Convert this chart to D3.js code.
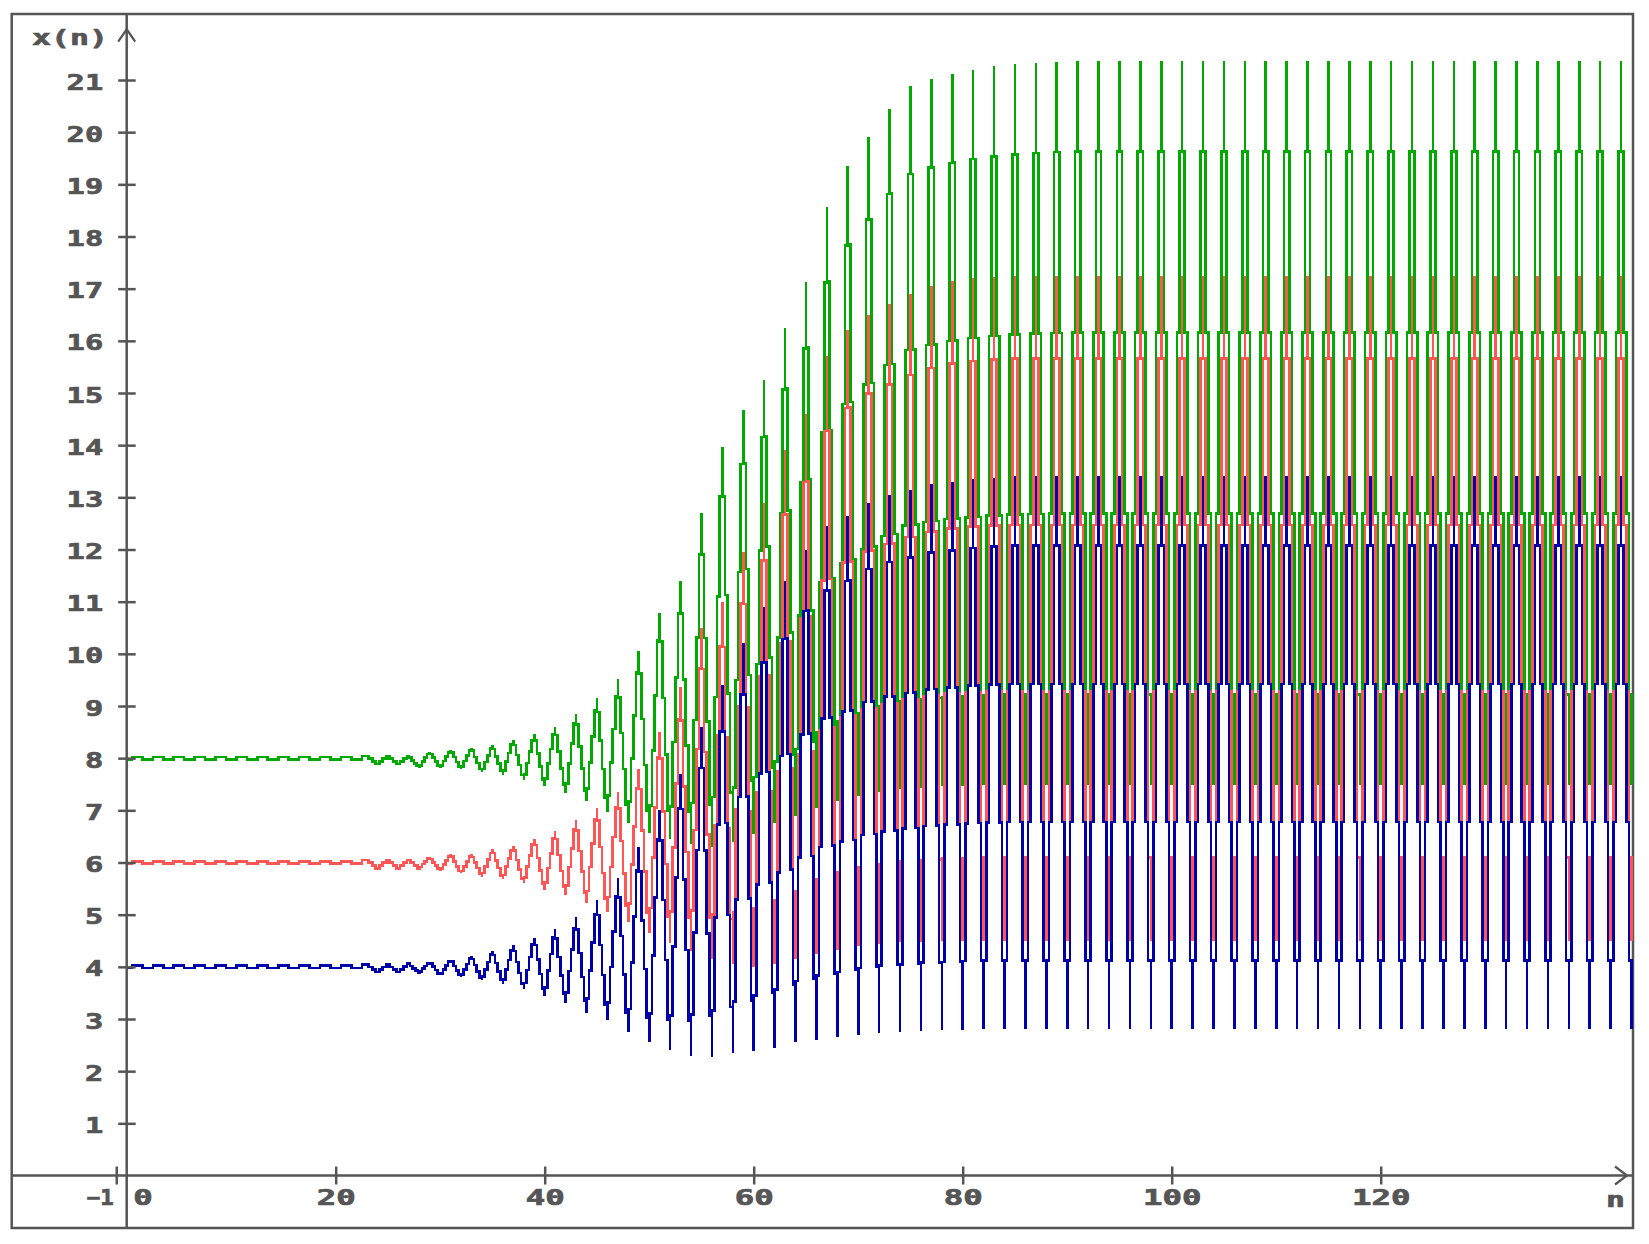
<!DOCTYPE html>
<html><head><meta charset="utf-8">
<script src="https://cdn.jsdelivr.net/npm/d3@7"></script>
<style>html,body{margin:0;padding:0;background:#fff;}svg{display:block;}</style>
</head><body>
<svg id="chart" width="1649" height="1244"></svg>
<script>
// ---- data: x(n) for n = 0 .. 144 ----
const greenValues = [
7.98,8.02,7.98,8.02,7.98,8.02,7.98,8.02,7.98,8.02,
7.98,8.02,7.98,8.02,7.98,8.02,7.98,8.02,7.98,8.02,
7.98,8.02,7.98,8.04,7.89,8.04,7.89,8.04,7.82,8.12,
7.82,8.16,7.79,8.20,7.73,8.25,7.68,8.35,7.58,8.46,
7.47,8.60,7.33,8.85,7.17,9.16,6.97,9.51,6.76,10.06,
6.56,10.78,6.45,11.40,6.35,12.70,6.30,13.97,6.40,14.67,
6.55,15.24,6.75,16.25,6.90,17.13,7.05,18.56,7.18,19.35,
7.28,19.90,7.35,20.45,7.40,20.88,7.43,21.02,7.46,21.12,
7.47,21.20,7.48,21.26,7.49,21.30,7.49,21.33,7.49,21.35,
7.49,21.36,7.49,21.36,7.49,21.36,7.49,21.36,7.49,21.36,
7.49,21.36,7.49,21.36,7.49,21.36,7.49,21.36,7.49,21.36,
7.49,21.36,7.49,21.36,7.49,21.36,7.49,21.36,7.49,21.36,
7.49,21.36,7.49,21.36,7.49,21.36,7.49,21.36,7.49,21.36,
7.49,21.36,7.49,21.36,7.49,21.36,7.49,21.36,7.49,21.36,
7.49,21.36,7.49,21.36,7.49
];
const redValues = [
5.98,6.02,5.98,6.02,5.98,6.02,5.98,6.02,5.98,6.02,
5.98,6.02,5.98,6.02,5.98,6.02,5.98,6.02,5.98,6.02,
5.98,6.02,5.98,6.05,5.89,6.05,5.89,6.05,5.89,6.10,
5.84,6.16,5.79,6.16,5.73,6.25,5.68,6.32,5.60,6.46,
5.47,6.60,5.38,6.81,5.23,7.05,5.05,7.35,4.85,7.80,
4.65,8.50,4.45,9.36,4.30,10.50,4.15,11.00,4.05,11.95,
4.00,12.90,4.05,13.90,4.15,14.60,4.25,15.70,4.33,16.20,
4.40,16.50,4.44,16.70,4.47,16.90,4.48,17.05,4.49,17.15,
4.50,17.20,4.50,17.23,4.50,17.25,4.50,17.25,4.50,17.25,
4.50,17.25,4.50,17.25,4.50,17.25,4.50,17.25,4.50,17.25,
4.50,17.25,4.50,17.25,4.50,17.25,4.50,17.25,4.50,17.25,
4.50,17.25,4.50,17.25,4.50,17.25,4.50,17.25,4.50,17.25,
4.50,17.25,4.50,17.25,4.50,17.25,4.50,17.25,4.50,17.25,
4.50,17.25,4.50,17.25,4.50,17.25,4.50,17.25,4.50,17.25,
4.50,17.25,4.50,17.25,4.50
];
const blueValues = [
3.98,4.02,3.98,4.02,3.98,4.02,3.98,4.02,3.98,4.02,
3.98,4.02,3.98,4.02,3.98,4.02,3.98,4.02,3.98,4.02,
3.98,4.02,3.98,4.05,3.90,4.05,3.90,4.06,3.88,4.10,
3.84,4.14,3.80,4.21,3.74,4.31,3.67,4.41,3.57,4.56,
3.45,4.72,3.30,4.95,3.12,5.28,2.98,5.70,2.75,6.30,
2.55,7.00,2.41,7.70,2.30,8.60,2.27,9.40,2.35,10.20,
2.38,10.90,2.45,11.40,2.55,12.00,2.60,12.45,2.65,12.65,
2.70,12.90,2.73,13.05,2.75,13.15,2.77,13.25,2.78,13.30,
2.79,13.35,2.80,13.38,2.80,13.40,2.80,13.40,2.80,13.40,
2.80,13.40,2.80,13.40,2.80,13.40,2.80,13.40,2.80,13.40,
2.80,13.40,2.80,13.40,2.80,13.40,2.80,13.40,2.80,13.40,
2.80,13.40,2.80,13.40,2.80,13.40,2.80,13.40,2.80,13.40,
2.80,13.40,2.80,13.40,2.80,13.40,2.80,13.40,2.80,13.40,
2.80,13.40,2.80,13.40,2.80,13.40,2.80,13.40,2.80,13.40,
2.80,13.40,2.80,13.40,2.80
];
const seriesNames = ["green", "red", "blue"];
const seriesColors = ["#00aa00", "#ff5555", "#0000aa"];
const yTickValues = [1,2,3,4,5,6,7,8,9,10,11,12,13,14,15,16,17,18,19,20,21];
const xTickValues = [20,40,60,80,100,120];
const xStartTick = -1;
const yAxisTitle = "x(n)";
const xAxisTitle = "n";

// ---- layout ----
const W = 1649, H = 1244;
const frame = {left: 11.7, top: 14, right: 1633, bottom: 1228};
const INK = "#555555";
const PX = 2.58;   // size of one screen pixel of the original display

const x = d3.scaleLinear().domain([0, 120]).range([126.7, 1380.7]);
const y = d3.scaleLinear().domain([0, 21]).range([1175.5, 80]);

const svg = d3.select("#chart");

// pixel-staircase curve (how a raster display draws a straight segment)
function PixelStair(context) { this._context = context; }
PixelStair.prototype = {
  areaStart() { this._line = 0; },
  areaEnd() { this._line = NaN; },
  lineStart() { this._point = 0; },
  lineEnd() {},
  point(px, py) {
    px = +px; py = +py;
    const c = this._context;
    if (this._point === 0) { this._point = 1; c.moveTo(px, py); }
    else {
      const x0 = this._x, y0 = this._y, dx = px - x0, dy = py - y0;
      if (Math.abs(dy) >= Math.abs(dx)) {
        const k = Math.max(1, Math.round(Math.abs(dx) / PX));
        for (let i = 0; i <= k; i++) {
          const xi = x0 + dx * i / k;
          const ya = y0 + dy * Math.max(0, i - 0.5) / k;
          const yb = y0 + dy * Math.min(k, i + 0.5) / k;
          c.lineTo(xi, ya); c.lineTo(xi, yb);
        }
      } else {
        const k = Math.max(1, Math.round(Math.abs(dy) / PX));
        for (let j = 0; j <= k; j++) {
          const yj = y0 + dy * j / k;
          const xa = x0 + dx * Math.max(0, j - 0.5) / k;
          const xb = x0 + dx * Math.min(k, j + 0.5) / k;
          c.lineTo(xa, yj); c.lineTo(xb, yj);
        }
      }
    }
    this._x = px; this._y = py;
  }
};
const pixelStair = ctx => new PixelStair(ctx);

// frame
svg.append("rect")
  .attr("x", frame.left).attr("y", frame.top)
  .attr("width", frame.right - frame.left).attr("height", frame.bottom - frame.top)
  .attr("fill", "none").attr("stroke", INK).attr("stroke-width", 2.5);

// series
const line = d3.line().x((d, i) => x(i)).y(d => y(d)).curve(pixelStair);
const seriesData = [greenValues, redValues, blueValues];
svg.append("g").selectAll("path")
  .data(seriesData)
  .join("path")
  .attr("class", (d, i) => "series " + seriesNames[i])
  .attr("d", d => line(d))
  .attr("fill", "none")
  .attr("stroke", (d, i) => seriesColors[i])
  .attr("stroke-width", 2.6)
  .attr("stroke-linejoin", "miter")
  .attr("shape-rendering", "crispEdges");

// axis lines
svg.append("line").attr("x1", x(0)).attr("x2", x(0))
  .attr("y1", frame.top).attr("y2", frame.bottom)
  .attr("stroke", INK).attr("stroke-width", 2.5);
svg.append("line").attr("x1", frame.left).attr("x2", frame.right)
  .attr("y1", y(0)).attr("y2", y(0))
  .attr("stroke", INK).attr("stroke-width", 2.5);

const fontFam = "'DejaVu Sans Mono', 'Liberation Mono', monospace";
function styleLabel(sel, size) {
  sel.attr("fill", INK).attr("stroke", INK).attr("stroke-width", 0.7)
    .style("font-family", fontFam).style("font-weight", "bold").style("font-size", size + "px");
}

// y axis ticks
const gy = svg.append("g").attr("transform", `translate(${x(0)},0)`)
  .call(d3.axisLeft(y).tickValues(yTickValues).tickSize(9).tickFormat(d3.format("d")));
gy.select(".domain").remove();
gy.selectAll(".tick line").attr("x1", 9).attr("x2", -8.5).attr("stroke", INK).attr("stroke-width", 2.5);
gy.selectAll(".tick text")
  .attr("x", -23.5).attr("dy", null).attr("y", 9)
  .attr("text-anchor", "end")
  .call(styleLabel, 22)
  .attr("textLength", d => String(d).length * 18.3)
  .attr("lengthAdjust", "spacingAndGlyphs");
gy.attr("font-family", null).attr("font-size", null);

// x axis ticks
const gx = svg.append("g").attr("transform", `translate(0,${y(0)})`)
  .call(d3.axisBottom(x).tickValues([xStartTick].concat(xTickValues)).tickSize(9).tickFormat(d3.format("d")));
gx.select(".domain").remove();
gx.selectAll(".tick line").attr("y1", -9).attr("y2", 9).attr("stroke", INK).attr("stroke-width", 2.5);
gx.selectAll(".tick text")
  .attr("y", 29.5).attr("dy", null)
  .call(styleLabel, 21)
  .attr("textLength", d => d === xStartTick ? 27 : String(d).length * 19.5)
  .attr("lengthAdjust", "spacingAndGlyphs")
  .attr("text-anchor", d => d === xStartTick ? "end" : "middle")
  .attr("x", d => d === xStartTick ? -3 : 0)
  .text(d => d === xStartTick ? "\u2212" + Math.abs(d) : d);
gx.attr("font-family", null).attr("font-size", null);
// label for the origin, just right of the vertical axis
svg.append("text")
  .attr("x", x(0) + 6.5).attr("y", y(0) + 29.5)
  .call(styleLabel, 21)
  .attr("textLength", 19.5).attr("lengthAdjust", "spacingAndGlyphs")
  .text("0");

// arrows
svg.append("polyline")
  .attr("points", [[x(0) - 8.5, 41.7], [x(0), 29.3], [x(0) + 8.5, 41.7]].map(p => p.join(",")).join(" "))
  .attr("fill", "none").attr("stroke", INK).attr("stroke-width", 2.2);
svg.append("polyline")
  .attr("points", [[1615, y(0) - 9], [1627, y(0)], [1615, y(0) + 9]].map(p => p.join(",")).join(" "))
  .attr("fill", "none").attr("stroke", INK).attr("stroke-width", 2.2);

// axis titles
svg.append("text")
  .attr("x", 32).attr("y", 44.5)
  .call(styleLabel, 22)
  .attr("textLength", 76).attr("lengthAdjust", "spacingAndGlyphs")
  .text(yAxisTitle);
svg.append("text")
  .attr("x", 1606).attr("y", 1207)
  .call(styleLabel, 22)
  .attr("textLength", 19).attr("lengthAdjust", "spacingAndGlyphs")
  .text(xAxisTitle);
</script>
</body></html>
